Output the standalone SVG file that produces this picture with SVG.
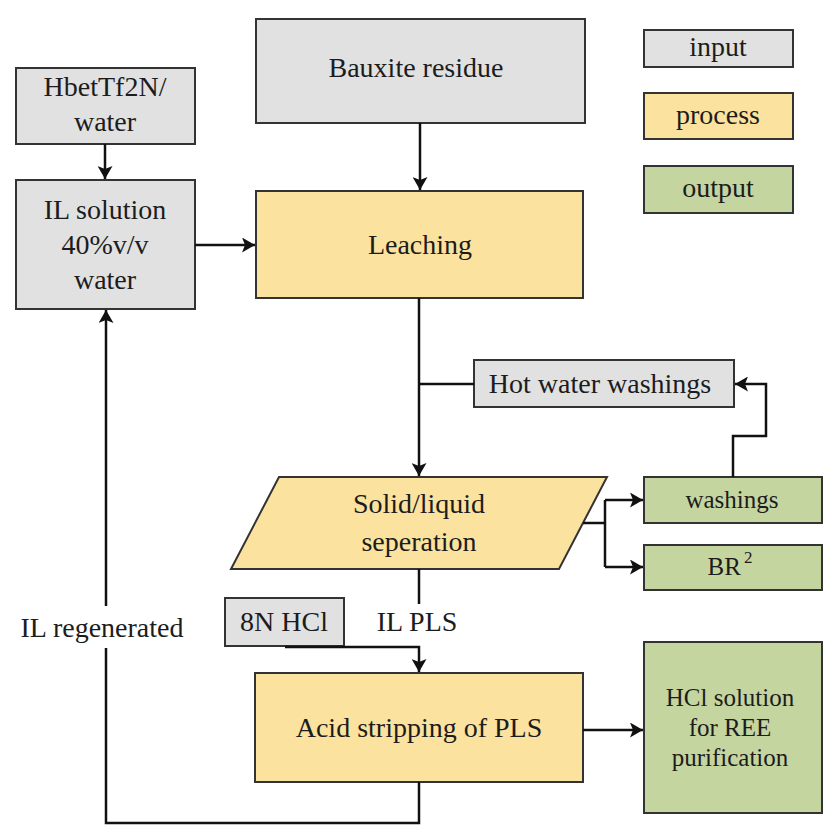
<svg xmlns="http://www.w3.org/2000/svg" width="823" height="825" viewBox="0 0 823 825">
<style>
.inp{fill:#e1e1e1;stroke:#333;stroke-width:2}
.pro{fill:#fbe29e;stroke:#333;stroke-width:2}
.out{fill:#c4d5a0;stroke:#333;stroke-width:2}
text{font-family:'Liberation Serif','DejaVu Serif',serif;font-size:28px;fill:#1c1c1c;text-anchor:middle}
.sm{font-size:25px}
.ln{fill:none;stroke:#111;stroke-width:2.5}
</style>
<defs>
<marker id="ah" viewBox="0 0 13 15" refX="13" refY="7.5" markerWidth="13" markerHeight="15" markerUnits="userSpaceOnUse" orient="auto">
<path d="M0,0 L13,7.5 L0,15 L3,7.5 Z" fill="#111"/>
</marker>
</defs>
<rect width="823" height="825" fill="#fff"/>
<g id="legend-input"><rect class="inp" x="644" y="30" width="149" height="37"/><text x="718" y="56">input</text></g>
<g id="legend-process"><rect class="pro" x="644" y="93" width="149" height="46"/><text x="718" y="124">process</text></g>
<g id="legend-output"><rect class="out" x="644" y="166" width="149" height="47"/><text x="718" y="197">output</text></g>
<g id="bauxite"><rect class="inp" x="256" y="19" width="329" height="104"/><text x="416" y="77">Bauxite residue</text></g>
<g id="hbet"><rect class="inp" x="16" y="68" width="179" height="76"/><text x="105" y="96">HbetTf2N/</text><text x="105" y="131">water</text></g>
<g id="ilsol"><rect class="inp" x="16" y="180" width="179" height="129"/><text x="105" y="219">IL solution</text><text x="105" y="254">40%v/v</text><text x="105" y="289">water</text></g>
<g id="leaching"><rect class="pro" x="256" y="191" width="327" height="107"/><text x="420" y="254" font-size="30">Leaching</text></g>
<g id="hotwater"><rect class="inp" x="474" y="360" width="260" height="47"/><text x="600" y="393">Hot water washings</text></g>
<g id="solidliquid"><polygon class="pro" points="279,477 607,477 559,569 231,569"/><text x="419" y="513">Solid/liquid</text><text x="419" y="551">seperation</text></g>
<g id="washings"><rect class="out" x="644" y="477" width="178" height="46"/><text class="sm" x="732" y="508">washings</text></g>
<g id="br2"><rect class="out" x="644" y="545" width="178" height="45"/><text class="sm" x="730" y="575">BR<tspan font-size="17" dx="3" dy="-12">2</tspan></text></g>
<g id="hcl8n"><rect class="inp" x="225" y="598" width="119" height="48"/><text x="284" y="631">8N HCl</text></g>
<g id="acid"><rect class="pro" x="255" y="673" width="328" height="109"/><text x="419" y="737">Acid stripping of PLS</text></g>
<g id="hclsol"><rect class="out" x="644" y="642" width="178" height="171"/><text class="sm" x="730" y="706">HCl solution</text><text class="sm" x="730" y="736">for REE</text><text class="sm" x="730" y="766">purification</text></g>
<g id="labels"><text x="102" y="637">IL regenerated</text><text x="417" y="631">IL PLS</text></g>
<g id="connectors">
<path class="ln" d="M105,144 V179" marker-end="url(#ah)"/>
<path class="ln" d="M420,123 V190" marker-end="url(#ah)"/>
<path class="ln" d="M195,245 H255" marker-end="url(#ah)"/>
<path class="ln" d="M419,298 V476" marker-end="url(#ah)"/>
<path class="ln" d="M474,384 H419"/>
<path class="ln" d="M733,477 V436 H766 V384 H735" marker-end="url(#ah)"/>
<path class="ln" d="M583,523 H605"/>
<path class="ln" d="M605,500 V567"/>
<path class="ln" d="M605,500 H643" marker-end="url(#ah)"/>
<path class="ln" d="M605,567 H643" marker-end="url(#ah)"/>
<path class="ln" d="M419,569 V604"/>
<path class="ln" d="M285,647 H419 V672" marker-end="url(#ah)"/>
<path class="ln" d="M583,730 H643" marker-end="url(#ah)"/>
<path class="ln" d="M419,782 V823 H106 V648"/>
<path class="ln" d="M106,606 V310" marker-end="url(#ah)"/>
</g>
</svg>
